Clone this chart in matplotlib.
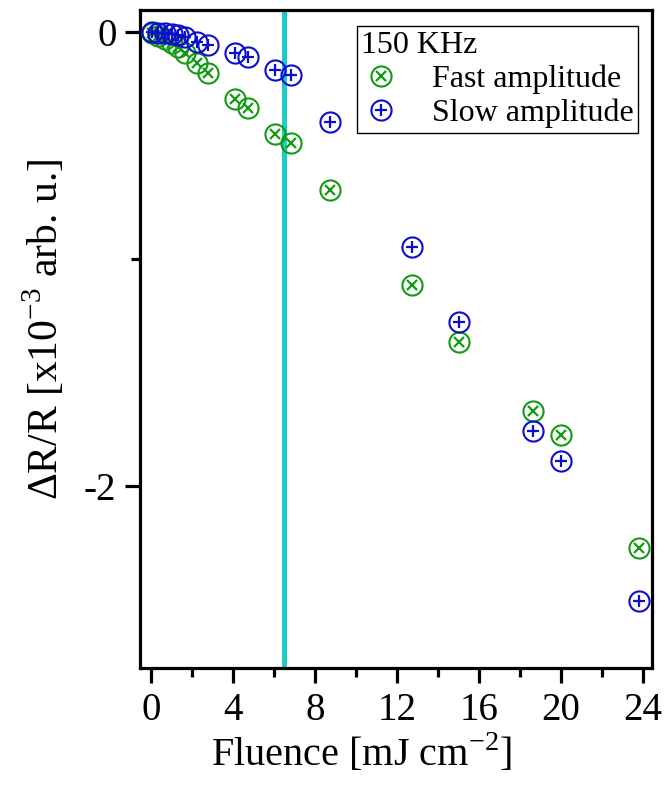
import matplotlib
matplotlib.use('Agg')
import matplotlib.pyplot as plt
from matplotlib.ticker import MultipleLocator
from matplotlib.legend_handler import HandlerTuple

plt.rcParams['font.family'] = ['Liberation Serif', 'DejaVu Serif']
plt.rcParams['mathtext.fontset'] = 'custom'
plt.rcParams['mathtext.rm'] = 'Liberation Serif'
plt.rcParams['axes.unicode_minus'] = False

#----data----
fluence = [0.05, 0.37, 0.70, 1.02, 1.35, 1.67, 2.24, 2.81, 4.11, 4.76,
           6.06, 6.84, 8.74, 12.73, 15.05, 18.65, 20.0, 23.79]
fast_amp = [-0.006, -0.019, -0.032, -0.050, -0.067, -0.094, -0.139, -0.180, -0.296, -0.337,
            -0.450, -0.491, -0.697, -1.115, -1.364, -1.668, -1.775, -2.274]
slow_amp = [0.0, -0.004, -0.007, -0.010, -0.015, -0.022, -0.044, -0.058, -0.095, -0.113,
            -0.169, -0.190, -0.399, -0.946, -1.276, -1.757, -1.888, -2.504]
threshold = 6.5

green = '#129a12'
blue = '#0c0cd2'

fig = plt.figure(figsize=(6.64, 8.0), dpi=100)
ax = fig.add_axes([0.211, 0.165, 0.771, 0.8225])

ax.axvline(threshold, color='#1ccccc', lw=3.6, zorder=1)

# circle + inner sign, drawn as two layers
g1, = ax.plot(fluence, fast_amp, 'o', ms=14.5, mfc='none', mec=green, mew=1.5, zorder=3)
g2, = ax.plot(fluence, fast_amp, 'x', ms=6.5, mec=green, mew=1.6, zorder=3)
b1, = ax.plot(fluence, slow_amp, 'o', ms=14.5, mfc='none', mec=blue, mew=1.5, zorder=4)
b2, = ax.plot(fluence, slow_amp, '+', ms=8.5, mec=blue, mew=1.6, zorder=4)

ax.set_xlim(-0.52, 24.44)
ax.set_ylim(-2.80, 0.095)
ax.xaxis.set_major_locator(MultipleLocator(4))
ax.xaxis.set_minor_locator(MultipleLocator(2))
ax.yaxis.set_major_locator(MultipleLocator(2))
ax.yaxis.set_minor_locator(MultipleLocator(1))

for s in ax.spines.values():
    s.set_linewidth(2.3)
ax.tick_params(which='major', length=11, width=2.3, labelsize=28, pad=6)
ax.tick_params(which='minor', length=6.5, width=2.3)

ax.set_xlabel('Fluence [mJ cm$^{-2}$]', fontsize=29)
ax.xaxis.set_label_coords(0.432, -0.098)
ax.set_ylabel('\u0394R/R [x10$^{-3}$ arb. u.]', fontsize=30)
ax.yaxis.set_label_coords(-0.143, 0.515)

leg = ax.legend([(g1, g2), (b1, b2)], ['Fast amplitude', 'Slow amplitude'],
                handler_map={tuple: HandlerTuple(ndivide=1)},
                title='150 KHz', title_fontsize=23, fontsize=23,
                loc='upper right', bbox_to_anchor=(0.973, 0.976), borderaxespad=0,
                fancybox=False, edgecolor='black', framealpha=1,
                handlelength=1.2, handletextpad=1.0, borderpad=0.15,
                labelspacing=0.15, alignment='left')
leg.get_frame().set_linewidth(1.0)

fig.savefig('out.png', dpi=100)
